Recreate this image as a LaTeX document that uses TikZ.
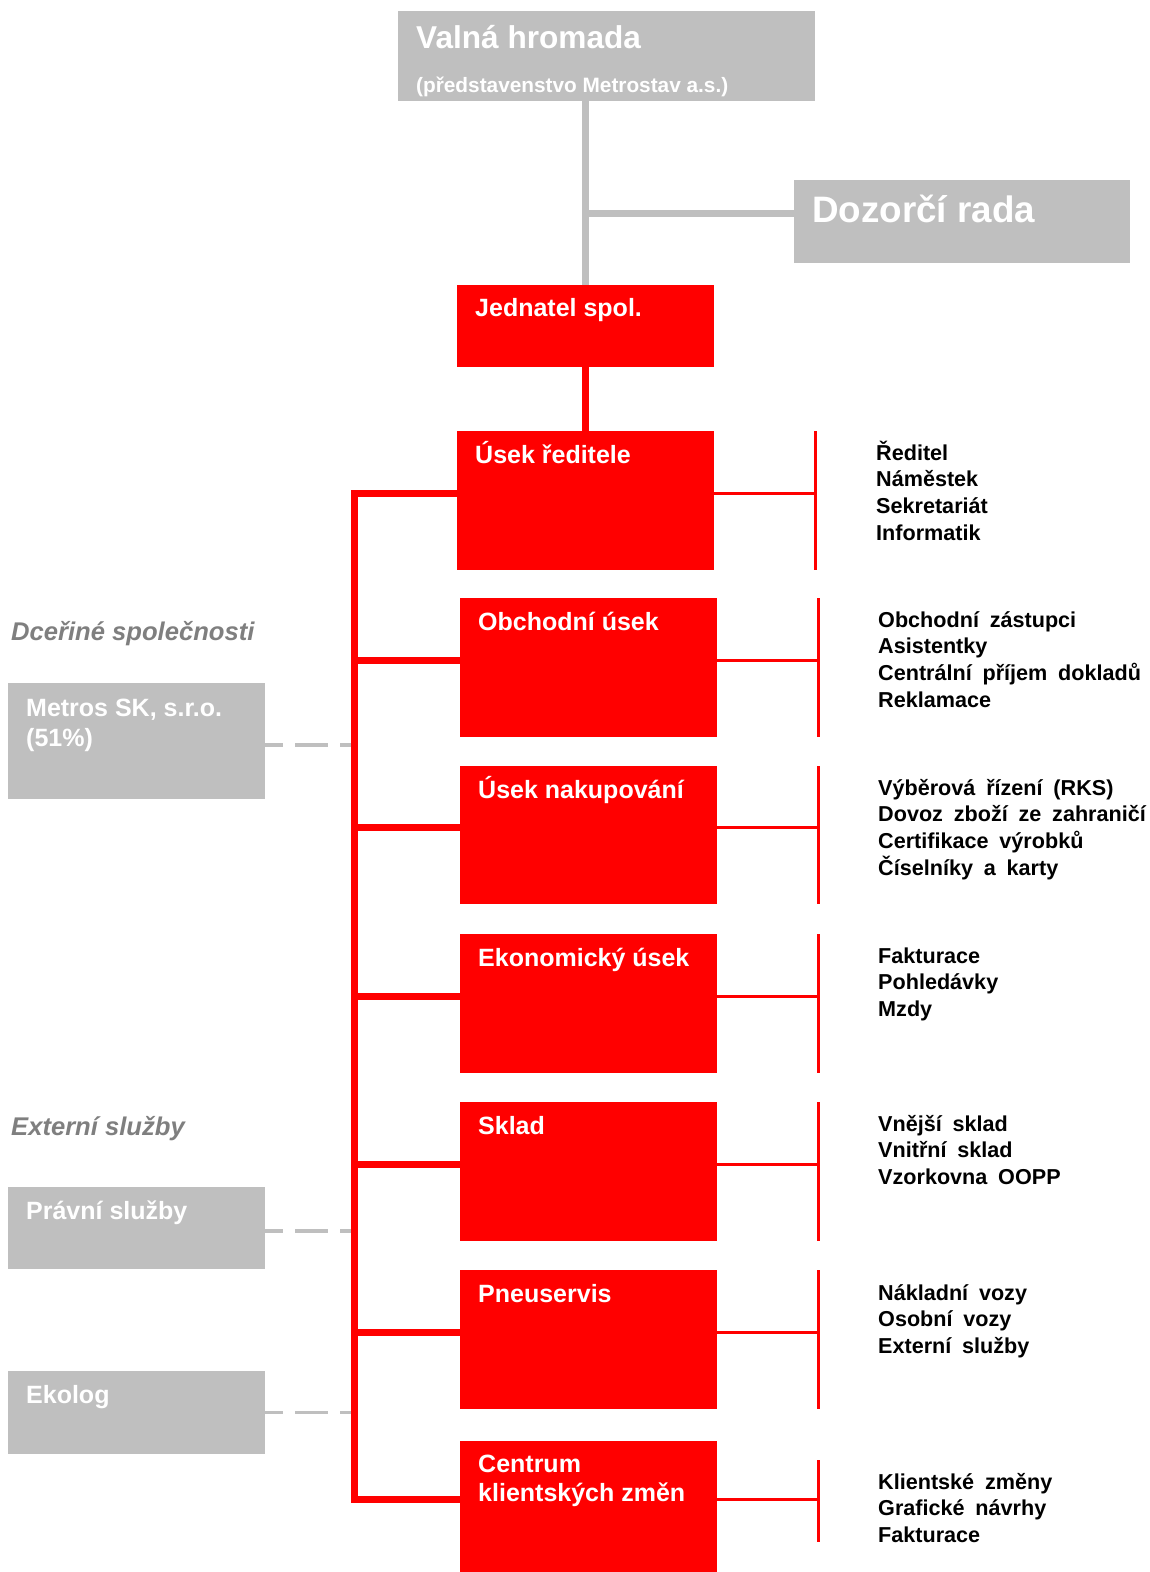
\documentclass[tikz,border=0pt]{standalone}
\usepackage{fontspec}
\setmainfont{Liberation Sans}
\newfontfamily\listfont{Liberation Sans}[WordSpace=1.8]
\definecolor{rd}{HTML}{FF0000}
\definecolor{gr}{HTML}{BFBFBF}
\definecolor{lbl}{HTML}{7F7F7F}
\newcommand{\lst}[1]{\begin{tabular}[t]{@{}l@{}}#1\end{tabular}}
\begin{document}
\begin{tikzpicture}[x=1pt,y=-1pt,
  redbox/.style={fill=rd, rectangle, inner sep=0pt, anchor=north west, minimum width=257pt},
  greybox/.style={fill=gr, rectangle, inner sep=0pt, anchor=north west},
  boxtxt/.style={text=white, inner sep=0pt, anchor=base west, font=\bfseries\fontsize{25}{29}\selectfont},
  listtxt/.style={text=black, inner sep=0pt, anchor=base west, font=\listfont\bfseries\fontsize{21.6}{26.7}\selectfont},
  sidelbl/.style={text=lbl, inner sep=0pt, anchor=base west, font=\bfseries\itshape\fontsize{25.6}{29}\selectfont},
  greyline/.style={draw=gr, line width=7pt},
  redline/.style={draw=rd, line width=7pt},
  redthin/.style={draw=rd, line width=3pt},
  dashl/.style={draw=gr, line width=3.5pt, dash pattern=on 33pt off 12pt, dash phase=15pt}]
\fill[white] (0,0) rectangle (1149,1572);
\useasboundingbox (0,0) rectangle (1149,1572);

% boxes
\node[greybox, minimum width=417pt, minimum height=90pt] (valna) at (398,11) {};
\node[greybox, minimum width=336pt, minimum height=83pt] (doz) at (794,180) {};
\node[redbox, minimum height=82pt] (jed) at (457,285) {};
\node[redbox, minimum height=139pt] (ur) at (457,431) {};
\node[redbox, minimum height=139pt] (ob) at (460,598) {};
\node[redbox, minimum height=138pt] (nak) at (460,766) {};
\node[redbox, minimum height=139pt] (eko) at (460,934) {};
\node[redbox, minimum height=139pt] (skl) at (460,1102) {};
\node[redbox, minimum height=139pt] (pne) at (460,1270) {};
\node[redbox, minimum height=131pt] (ckz) at (460,1441) {};
\node[greybox, minimum width=257pt, minimum height=116pt] (ms) at (8,683) {};
\node[greybox, minimum width=257pt, minimum height=82pt] (pr) at (8,1187) {};
\node[greybox, minimum width=257pt, minimum height=83pt] (ek) at (8,1371) {};

% box texts
\node[boxtxt, font=\bfseries\fontsize{31.6}{36}\selectfont] (tvalna) at (416,48) {Valná hromada};
\node[boxtxt, font=\bfseries\fontsize{20.8}{24}\selectfont] (tvalna2) at (416,92) {(představenstvo Metrostav a.s.)};
\node[boxtxt, font=\bfseries\fontsize{36.8}{40}\selectfont] (tdoz) at (812,222) {Dozorčí rada};
\node[boxtxt] (tjed) at (475,316) {Jednatel spol.};
\node[boxtxt] (tur) at (475,463) {Úsek ředitele};
\node[boxtxt] (tob) at (478,630) {Obchodní úsek};
\node[boxtxt] (tnak) at (478,798) {Úsek nakupování};
\node[boxtxt] (teko) at (478,966) {Ekonomický úsek};
\node[boxtxt] (tskl) at (478,1134) {Sklad};
\node[boxtxt] (tpne) at (478,1302) {Pneuservis};
\node[boxtxt] (tckz) at (478,1472) {\lst{Centrum\\klientských změn}};
\node[boxtxt, font=\bfseries\fontsize{25}{30}\selectfont] (tms) at (26,716) {\lst{Metros SK, s.r.o.\\(51\%)}};
\node[boxtxt] (tpr) at (26,1219) {Právní služby};
\node[boxtxt] (tek) at (26,1403) {Ekolog};

% side labels
\node[sidelbl] (ldcer) at (11,640) {Dceřiné společnosti};
\node[sidelbl] (lext) at (11,1135) {Externí služby};

% lists
\node[listtxt] (lur) at (876,460) {\lst{Ředitel\\Náměstek\\Sekretariát\\Informatik}};
\node[listtxt] (lob) at (878,627) {\lst{Obchodní zástupci\\Asistentky\\Centrální příjem dokladů\\Reklamace}};
\node[listtxt] (lnak) at (878,795) {\lst{Výběrová řízení (RKS)\\Dovoz zboží ze zahraničí\\Certifikace výrobků\\Číselníky a karty}};
\node[listtxt] (leko) at (878,963) {\lst{Fakturace\\Pohledávky\\Mzdy}};
\node[listtxt] (lskl) at (878,1131) {\lst{Vnější sklad\\Vnitřní sklad\\Vzorkovna OOPP}};
\node[listtxt] (lpne) at (878,1300) {\lst{Nákladní vozy\\Osobní vozy\\Externí služby}};
\node[listtxt] (lckz) at (878,1489) {\lst{Klientské změny\\Grafické návrhy\\Fakturace}};

% grey connectors
\path ([yshift=8pt]doz.west) coordinate (dzc);
\draw[greyline] (jed.north) -- (jed.north |- valna.south);
\draw[greyline] (jed.north |- dzc) -- (dzc);

% coordinates for red connectors
\coordinate (bus) at (354,0);
\foreach \n in {ur,ob,nak,eko,skl,pne,ckz}{
  \path ([yshift=7.5pt]\n.west) coordinate (\n-l);
  \path ([yshift=7.5pt]\n.east) coordinate (\n-r);
}
\foreach \n in {ur,ob,nak,eko,skl,pne}{
  \path ([xshift=101pt]\n.north east) coordinate (\n-bt);
  \path ([xshift=101pt]\n.south east) coordinate (\n-bb);
}
\coordinate (ckz-bt) at (818,1460);
\coordinate (ckz-bb) at (818,1542);

% dashed links
\path ([yshift=-4pt]ms.east) coordinate (msc);
\path ([yshift=-3pt]pr.east) coordinate (prc);
\path (ek.east) coordinate (ekc);
\draw[dashl] (msc) -- (bus |- msc);
\draw[dashl] (prc) -- (bus |- prc);
\draw[dashl] (ekc) -- (bus |- ekc);

% red tree
\draw[redline] (jed.south) -- (ur.north);
\draw[redline] (ur-l) -| (bus |- ckz-l) -- (ckz-l);
\foreach \n in {ob,nak,eko,skl,pne}{
  \draw[redline] (bus |- \n-l) -- (\n-l);
}
\foreach \n in {ur,ob,nak,eko,skl,pne,ckz}{
  \draw[redthin] (\n-r) -- (\n-r -| \n-bt);
  \draw[redthin] (\n-bt) -- (\n-bb);
}
\end{tikzpicture}
\end{document}
